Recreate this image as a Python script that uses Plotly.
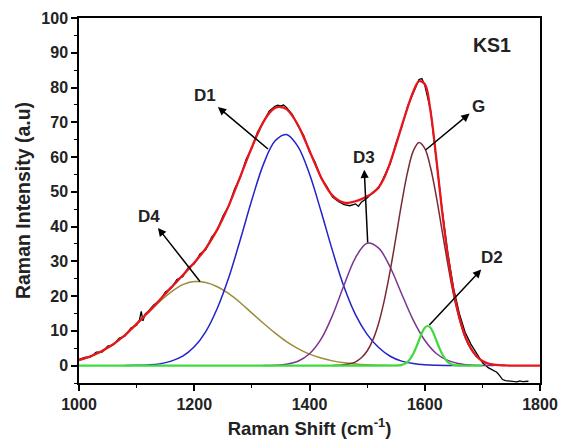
import plotly.graph_objects as go

# ---------------- data ----------------
# measured spectrum (black)
black_x = [1000,1010,1020,1030,1040,1050,1060,1070,1080,1090,1100,1105,1108,1111,1115,
           1120,1130,1140,1150,1160,1170,1180,1190,1200,1210,1220,1230,1240,1250,1260,
           1270,1280,1290,1300,1310,1320,1330,1335,1340,1345,1350,1355,1360,1370,1380,
           1390,1400,1410,1420,1430,1440,1450,1460,1470,1480,1485,1490,1500,1510,1520,
           1530,1540,1550,1560,1570,1580,1590,1595,1600,1610,1620,1630,1640,1650,1660,
           1670,1680,1690,1700,1710,1720,1725,1730,1735,1740,1750,1760,1765,1770,1780]
black_y = [1.8,2.4,2.5,3.9,3.9,5.6,6.0,7.9,8.5,10.8,11.6,13.2,15.6,12.9,14.9,
           15.6,17.5,18.6,21.2,22.3,24.8,25.6,28.3,29.3,32.1,33.4,36.9,39.0,43.1,46.0,
           50.8,54.2,59.4,62.6,67.3,70.0,73.2,74.0,74.6,74.9,74.7,75.0,74.3,72.3,69.0,
           66.2,61.5,58.4,53.9,51.6,48.5,47.2,46.3,46.0,46.5,45.8,47.0,48.2,49.9,51.0,
           54.6,58.1,63.9,68.6,74.5,78.5,82.3,82.6,80.7,73.6,59.2,45.1,32.4,22.3,15.0,
           9.6,6.2,3.6,0.9,-0.6,-1.6,-1.9,-2.9,-4.0,-4.3,-4.5,-4.7,-4.4,-4.6,-4.5]

# cumulative fit (red)
fit_x = list(range(1000, 1801, 10))
fit_y = [1.6,2.1,2.65,3.4,4.2,5.2,6.2,7.5,8.8,10.4,
         12.0,13.7,15.4,17.1,18.9,20.7,22.5,24.2,26.0,27.8,
         29.6,31.6,33.7,36.3,39.2,42.5,46.1,50.2,54.4,58.7,
         62.8,66.7,70.1,72.6,74.1,74.4,73.8,71.9,69.2,65.7,
         61.8,57.9,54.2,51.2,48.9,47.6,46.9,46.9,47.3,47.9,
         48.7,49.7,51.3,54.2,58.4,63.5,68.9,74.1,78.8,81.8,
         81.0,73.2,59.6,44.6,31.7,21.5,14.0,8.5,5.0,2.7,
         1.35,0.6,0.27,0.12,0.05,0.02,0,0,0,0,
         0]

# component bands
d4_x = list(range(1000, 1561, 20))
d4_y = [1.6,2.65,4.2,6.2,8.8,11.9,15.2,18.4,21.2,23.3,24.2,23.9,22.7,20.7,18.1,
        15.1,12.2,9.4,6.9,4.9,3.3,2.2,1.37,0.82,0.47,0.26,0.14,0.07,0.03]

d1_x = list(range(1080, 1681, 20))
d1_y = [0.03,0.1,0.2,0.5,1.3,2.7,5.4,9.8,16.5,25.4,36.3,47.7,57.9,64.6,66.5,63.0,
        55.1,44.4,33.0,22.6,14.6,9.0,5.2,2.7,1.3,0.6,0.25,0.1,0.04,0.01,0]

d3_x = list(range(1320, 1721, 20))
d3_y = [0.02,0.1,0.39,1.25,3.4,7.6,14.5,23.2,31.1,35.2,33.8,28.3,20.6,13.1,7.3,
        3.5,1.5,0.55,0.17,0.05,0.01]

g_x = list(range(1440, 1741, 10))
g_y = [0.03,0.09,0.23,0.52,1.1,2.25,4.2,7.4,12.2,18.9,27.3,36.9,46.8,55.5,61.7,
       64.2,62.5,57.0,48.7,38.9,29.2,20.4,13.4,8.2,4.8,2.6,1.3,0.6,0.27,0.11,0.04]

d2_x = [1000,1100,1200,1300,1400,1500,1550,1555,1560,1565,1570,1575,1580,1585,1590,
        1595,1600,1605,1610,1615,1620,1625,1630,1635,1640,1645,1650,1655,1660,1700]
d2_y = [0,0,0,0,0,0,0.03,0.09,0.2,0.5,1.0,2.0,3.4,5.2,7.3,
        9.4,10.9,11.4,10.9,9.4,7.3,5.2,3.4,2.0,1.0,0.5,0.2,0.09,0.03,0]

band_labels = ["D1", "D4", "D3", "G", "D2"]

# ---------------- figure ----------------
fig = go.Figure()
fig.add_trace(go.Scatter(x=black_x, y=black_y, mode="lines",
                         line=dict(color="black", width=1.3)))
fig.add_trace(go.Scatter(x=d4_x, y=d4_y, mode="lines",
                         line=dict(color="#9A8C3A", width=1.5, shape="spline")))
fig.add_trace(go.Scatter(x=d1_x, y=d1_y, mode="lines",
                         line=dict(color="#2222CC", width=1.5, shape="spline")))
fig.add_trace(go.Scatter(x=d3_x, y=d3_y, mode="lines",
                         line=dict(color="#7A3590", width=1.5, shape="spline")))
fig.add_trace(go.Scatter(x=g_x, y=g_y, mode="lines",
                         line=dict(color="#7A2A35", width=1.5, shape="spline")))
fig.add_trace(go.Scatter(x=d2_x, y=d2_y, mode="lines",
                         line=dict(color="#3EDB3E", width=2.2, shape="spline")))
fig.add_trace(go.Scatter(x=fit_x, y=fit_y, mode="lines",
                         line=dict(color="#E8151B", width=2.3, shape="spline")))

# label placement and the point on each band the arrow starts from (data coordinates)
label_pos = [(1218, 77.6), (1121, 43.0), (1494, 59.8), (1693, 74.6), (1717, 31.0)]
arrow_tail = [(1328, 62.3), (1210, 24.2), (1501, 35.4), (1602, 62.1), (1608, 11.7)]

font_fam = "Liberation Sans, Arial, sans-serif"
for lab, (lx, ly), (tx, ty) in zip(band_labels, label_pos, arrow_tail):
    fig.add_annotation(x=tx, y=ty, ax=lx, ay=ly, axref="x", ayref="y", xref="x", yref="y",
                       text="<b>%s</b>" % lab, showarrow=True, arrowside="start",
                       startarrowhead=2, startarrowsize=1.1, startstandoff=1,
                       arrowwidth=1.5, arrowcolor="black",
                       font=dict(family=font_fam, size=17, color="#222"))

fig.add_annotation(x=1717, y=92.3, xref="x", yref="y", text="<b>KS1</b>",
                   showarrow=False, font=dict(family=font_fam, size=19.5, color="#222"))

axis_common = dict(showline=True, linecolor="black", linewidth=1.5, mirror=True,
                   ticks="outside", ticklen=6, tickwidth=1.5, tickcolor="black",
                   showgrid=False, zeroline=False,
                   tickfont=dict(family=font_fam, size=16, color="#222", weight="bold"))

fig.update_xaxes(range=[1000, 1800], tickvals=[1000, 1200, 1400, 1600, 1800],
                 minor=dict(ticks="outside", ticklen=3, tickwidth=1.2, tickcolor="black",
                            dtick=100, tick0=1000, showgrid=False),
                 title=dict(text="<b>Raman Shift (cm<sup>-1</sup>)</b>", standoff=10,
                            font=dict(family=font_fam, size=18.5, color="#222")),
                 **axis_common)
fig.update_yaxes(range=[-5, 100], tickvals=list(range(0, 101, 10)),
                 minor=dict(ticks="outside", ticklen=3, tickwidth=1.2, tickcolor="black",
                            dtick=5, tick0=0, showgrid=False),
                 title=dict(text="<b>Raman Intensity (a.u)</b>", standoff=6,
                            font=dict(family=font_fam, size=19.5, color="#222")),
                 **axis_common)

fig.update_layout(width=561, height=440, showlegend=False,
                  margin=dict(l=79, r=21, t=18, b=57, autoexpand=False),
                  plot_bgcolor="white", paper_bgcolor="white")

fig.write_html("out.html")
